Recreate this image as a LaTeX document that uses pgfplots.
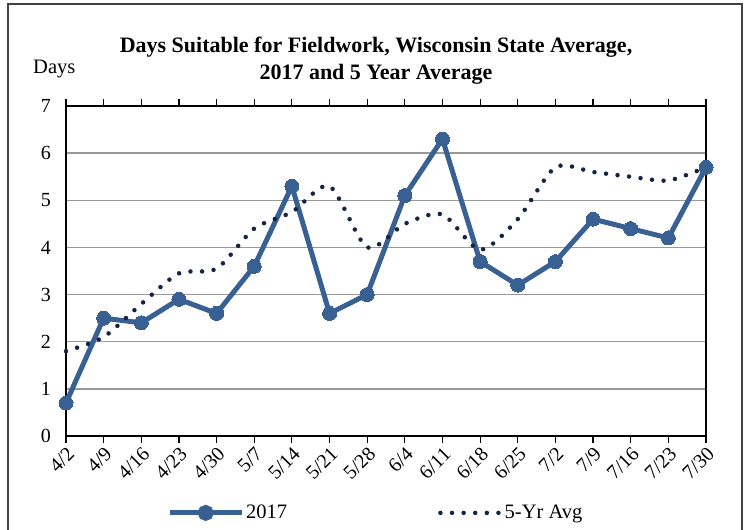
\documentclass[border=0pt]{standalone}
\usepackage{pgfplots}
\pgfplotsset{compat=1.18}
\usepackage{fontspec}
\setmainfont{Liberation Serif}
\definecolor{blue17}{RGB}{56,96,146}
\definecolor{navy}{RGB}{20,36,66}
\pgfplotsset{
  legA/.style={legend image code/.code={\draw[##1, mark=none] (0pt,0pt) -- (72pt,0pt); \fill[blue17] (36pt,0pt) circle (5.5pt);}},
  legB/.style={legend image code/.code={\draw[##1] (0pt,0pt) -- (60pt,0pt);}},
}
\begin{document}
\begin{tikzpicture}
\path[use as bounding box] (0pt,0pt) rectangle (748pt,530pt);
\draw[line width=1.2pt, black!75] (8pt,-20pt) -- (8pt,526pt) -- (742pt,526pt) -- (742pt,-20pt);
\node[anchor=base, font=\bfseries\fontsize{22}{24}\selectfont] at (376pt,477pt) {Days Suitable for Fieldwork, Wisconsin State Average,};
\node[anchor=base, font=\bfseries\fontsize{22}{24}\selectfont] at (376pt,450pt) {2017 and 5 Year Average};
\node[anchor=base west, inner sep=0pt, font=\fontsize{20.5}{22}\selectfont] at (33pt,456pt) {Days};
\begin{axis}[
  at={(66pt,94pt)}, anchor=south west,
  scale only axis, width=640pt, height=330pt,
  xmin=0, xmax=17, ymin=0, ymax=7,
  xtick={0,...,17},
  xticklabels={4/2,4/9,4/16,4/23,4/30,5/7,5/14,5/21,5/28,6/4,6/11,6/18,6/25,7/2,7/9,7/16,7/23,7/30},
  ytick={0,...,7},
  /pgf/number format/assume math mode=true,
  tick label style={font=\fontsize{20}{22}\selectfont},
  xticklabel style={rotate=45, anchor=north east, inner sep=2pt},
  yticklabel style={inner sep=8pt},
  tick align=outside,
  major tick length=7pt,
  xtick style={black, line width=1.2pt},
  ytick style={draw=none},
  ymajorgrids,
  major grid style={black!40, line width=1.3pt},
  axis line style={black, line width=1.5pt},
  clip=false,
  legend style={at={(0.484,-0.233)}, anchor=center, draw=none, fill=none,
    font=\fontsize{20.5}{22}\selectfont, legend columns=2,
    /tikz/every even column/.append style={column sep=149pt}},
]
\addplot[blue17, line width=5pt, mark=*, mark size=7pt, mark options={fill=blue17, draw=blue17, line width=0pt}, legA] coordinates {
(0,0.7) (1,2.5) (2,2.4) (3,2.9) (4,2.6) (5,3.6) (6,5.3) (7,2.6) (8,3.0)
(9,5.1) (10,6.3) (11,3.7) (12,3.2) (13,3.7) (14,4.6) (15,4.4) (16,4.2) (17,5.7)};
\addlegendentry{2017}
\addplot[navy, line width=4.5pt, line cap=round, dash pattern=on 0pt off 11.6pt, smooth, tension=0.45, legB] coordinates {
(0,1.8) (1,2.1) (2,2.8) (3,3.45) (4,3.55) (5,4.4) (6,4.75) (7,5.3) (8,4.0)
(9,4.5) (10,4.7) (11,3.95) (12,4.6) (13,5.7) (14,5.6) (15,5.5) (16,5.42) (17,5.7)};
\addlegendentry{5-Yr Avg}
\end{axis}
\end{tikzpicture}
\end{document}
